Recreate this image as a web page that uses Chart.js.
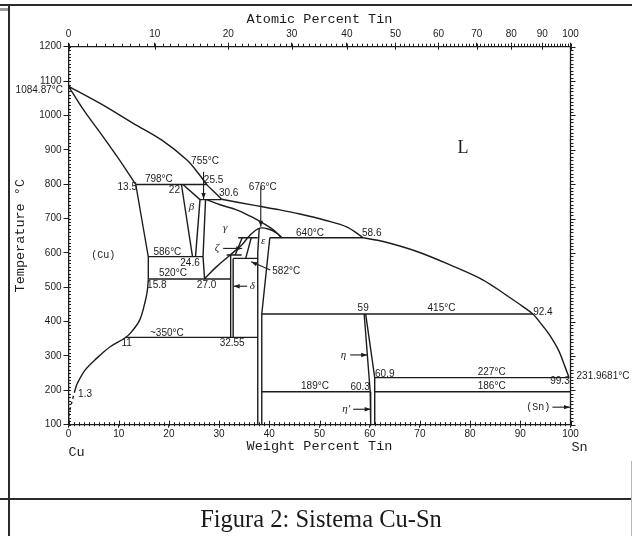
<!DOCTYPE html>
<html lang="es">
<head>
<meta charset="UTF-8">
<title>Figura 2: Sistema Cu-Sn</title>
<script src="https://cdn.jsdelivr.net/npm/chart.js"></script>
<style>
  body { margin: 0; background: #fff; }
  .page { position: relative; width: 632px; height: 536px; overflow: hidden; background: #fff; }
  #chart-box { position: absolute; left: 0; top: 0; width: 632px; height: 462px; }
  .rule { position: absolute; background: #2b2b2b; }
  .caption {
    position: absolute; left: 10px; width: 622px; top: 505px;
    text-align: center; font-family: "Liberation Serif", serif;
    font-size: 24.5px; line-height: 28px; color: #1a1a1a;
  }
</style>
</head>
<body>
<div class="page">
  <div id="chart-box"><canvas id="cuSnChart" width="632" height="462"></canvas></div>
  <div class="rule" style="left:0;top:4px;width:632px;height:2px"></div>
  <div class="rule" style="left:0;top:8px;width:8px;height:3px;background:#9a9a9a"></div>
  <div class="rule" style="left:8px;top:5px;width:2px;height:531px"></div>
  <div class="rule" style="left:0;top:498px;width:632px;height:2px"></div>
  <div class="rule" style="left:631px;top:461px;width:1px;height:75px;background:#b8b8b8"></div>
  <div class="caption">Figura 2: Sistema Cu-Sn</div>
</div>

<script>
  // limites de fase: [% peso Sn, T °C] leidos del diagrama
  // curvas
  const liquidusCu  = [[0,1084.87],[6.3,1035],[12.9,977],[18.6,928],[23.6,870],[26.2,825],[27.6,798],[29.0,778],[30.5,756]];
  const liquidusMid = [[30.5,756],[36.8,739],[42.1,725],[46.1,713],[51.1,695],[55.5,675],[58.7,644]];
  const liquidusSn  = [[58.7,644],[62.7,633],[69.4,604],[76.0,565],[82.6,521],[87.3,476],[90.6,443],[92.5,422],[94.6,385],[95.6,366],[97.6,317],[98.9,269],[99.7,237]];
  const solidusCu   = [[0,1084.87],[3.0,1016],[6.3,950],[9.6,882],[13.4,799]];
  const alphaSolvus = [[15.9,523],[15.7,490],[15.3,460],[14.2,405],[12.6,371],[11.3,353],[8.3,327],[5.6,293],[3.3,259],[1.75,220],[1.3,201]];
  const alphaLow    = [[1.3,201],[0.6,162],[0.16,133],[0,105]];
  const gammaDome   = [[27.1,525],[29.5,560],[32.2,594],[34.5,623],[36.2,652],[38.1,672],[40.1,668],[41.5,657],[42.5,644]];
  const gammaUpper  = [[27.5,755],[30.2,740],[33.5,725],[36.0,708],[38.1,692],[40.8,667],[42.5,644]];
  // tramos rectos
  const alphaHigh   = [[13.4,799],[15.9,588],[15.9,523]];
  const betaLeft    = [[22.5,799],[24.7,589]];
  const betaSolidus = [[22.8,799],[26.2,755]];
  const betaRight   = [[26.2,755],[25.3,589]];
  const gammaLeft   = [[27.3,755],[26.8,589],[27.1,525]];
  const epsLeft     = [[38.0,672],[37.7,600],[37.7,100]];
  const epsRight    = [[40.1,644],[38.5,422],[38.5,100]];
  const deltaLeft   = [[32.3,594],[32.3,354]];
  const deltaRight  = [[32.8,584],[32.8,354]];
  const zetaLeft    = [[34.6,644],[33.2,594]];
  const zetaRight   = [[36.4,644],[35.3,584]];
  const etaLeft     = [[58.9,422],[60.1,196],[60.2,100]];
  const etaRight    = [[59.2,422],[61.0,237],[61.0,100]];
  // isotermas
  const line798 = [[13.4,799],[27.6,799]];
  const line755 = [[26.2,755],[30.5,755]];
  const line640a = [[33.8,644],[37.7,644]];
  const line640b = [[40.1,644],[58.7,644]];
  const line590 = [[31.5,594],[34.5,594]];
  const line586 = [[15.9,589],[26.8,589]];
  const line582 = [[32.8,584],[37.7,584]];
  const line520 = [[15.9,524],[32.3,524]];
  const line415 = [[38.5,422],[92.5,422]];
  const line350 = [[11.3,354],[37.7,354]];
  const line227 = [[61.0,237],[99.7,237]];
  const line189 = [[38.5,196],[60.1,196]];
  const line186 = [[61.0,196],[100,196]];

  const weightTicks = [0, 10, 20, 30, 40, 50, 60, 70, 80, 90, 100];
  const atomicTicks = [0, 10, 20, 30, 40, 50, 60, 70, 80, 90, 100];
  const tempTicks = [100, 200, 300, 400, 500, 600, 700, 800, 900, 1000, 1100, 1200];

  // flechas [x1, T1, x2, T2], punta en el segundo punto
  const arrows = [
    [26.9, 836, 26.9, 757],
    [38.3, 793, 38.3, 676],
    [30.8, 613, 34.6, 613],
    [35.6, 503, 32.9, 503],
    [40.2, 550, 36.4, 574],
    [56.1, 303, 59.5, 303],
    [56.7, 145, 60.2, 145],
    [96.4, 151, 99.9, 151]
  ];

  // rotulos numericos [texto, x, T, alineacion]
  const notes = [
    ['1084.87°C', -1.1, 1072, 'right'],
    ['755°C', 27.2, 868], ['798°C', 18.0, 814], ['13.5', 11.7, 791], ['22', 21.1, 783],
    ['25.5', 28.9, 812], ['30.6', 31.9, 773], ['676°C', 38.7, 791],
    ['640°C', 48.1, 657], ['58.6', 60.4, 657], ['586°C', 19.7, 603], ['24.6', 24.2, 571],
    ['520°C', 20.8, 541], ['15.8', 17.6, 507], ['27.0', 27.5, 507], ['582°C', 40.6, 546, 'left'],
    ['~350°C', 19.6, 366], ['11', 11.6, 337], ['32.55', 32.6, 337], ['1.3', 3.3, 188],
    ['59', 58.7, 439], ['415°C', 74.3, 439], ['92.4', 94.5, 426], ['60.9', 63.0, 248],
    ['227°C', 84.3, 254], ['231.9681°C', 101.2, 242, 'left'], ['99.3', 97.9, 225],
    ['189°C', 49.1, 211], ['60.3', 58.1, 209], ['186°C', 84.3, 211]
  ];

  // nombres de fases [texto, x, T, fuente]
  const phases = [
    ['L', 78.6, 904, '18px "Liberation Serif"'],
    ['(Cu)', 6.9, 594, '10px "Liberation Mono"'],
    ['(Sn)', 93.6, 151, '10px "Liberation Mono"'],
    ['β', 24.5, 734, 'italic 11px "Liberation Serif"'],
    ['γ', 31.2, 672, 'italic 11px "Liberation Serif"'],
    ['ε', 38.8, 635, 'italic 11px "Liberation Serif"'],
    ['ζ', 29.6, 613, 'italic 11px "Liberation Serif"'],
    ['δ', 36.6, 503, 'italic 11px "Liberation Serif"'],
    ['η', 54.8, 303, 'italic 11px "Liberation Serif"'],
    ['η′', 55.3, 145, 'italic 11px "Liberation Serif"']
  ];

  const curves = [liquidusCu, liquidusMid, liquidusSn, solidusCu, alphaSolvus, gammaDome, gammaUpper];
  const straights = [alphaHigh, betaLeft, betaSolidus, betaRight, gammaLeft,
    epsLeft, epsRight, deltaLeft, deltaRight, zetaLeft, zetaRight, etaLeft, etaRight,
    line798, line755, line640a, line640b, line590, line586, line582, line520,
    line415, line350, line227, line189, line186];

  const ink = '#1c1c1c';
  const monoTitle = { family: '"Liberation Mono", monospace', size: 13.5 };
  const tickFont = { family: '"Liberation Sans", sans-serif', size: 10 };

  // % atomico -> % en peso (Sn 118.71, Cu 63.546)
  function atToWt(a) {
    return 100 * a * 118.71 / (a * 118.71 + (100 - a) * 63.546);
  }

  function toSet(pts, tension, dashed) {
    return {
      data: pts.map(p => ({ x: p[0], y: p[1] })),
      showLine: true,
      borderColor: ink,
      borderWidth: 1.4,
      borderDash: dashed ? [3, 3] : [],
      pointRadius: 0,
      fill: false,
      tension: tension
    };
  }

  const extras = {
    id: 'extras',
    afterDraw(chart) {
      const { ctx, chartArea: a, scales: { x, y } } = chart;
      const px = v => x.getPixelForValue(v);
      const py = v => y.getPixelForValue(v);
      ctx.save();
      ctx.strokeStyle = ink;
      ctx.fillStyle = ink;

      // borde derecho y marcas menores
      ctx.lineWidth = 1.3;
      ctx.beginPath();
      ctx.moveTo(a.right, a.top);
      ctx.lineTo(a.right, a.bottom);
      ctx.stroke();

      ctx.lineWidth = 1;
      ctx.beginPath();
      for (let t = 100; t <= 1200; t += 10) {
        const yy = Math.round(py(t)) + 0.5;
        ctx.moveTo(a.left, yy); ctx.lineTo(a.left + 2.5, yy);
        ctx.moveTo(a.right, yy); ctx.lineTo(a.right + (t % 100 === 0 ? 5 : 3), yy);
      }
      for (let w = 0; w <= 100; w++) {
        const xx = Math.round(px(w)) + 0.5;
        ctx.moveTo(xx, a.bottom + 1.5); ctx.lineTo(xx, a.bottom - (w % 10 === 0 ? 4 : 2.5));
      }
      for (let at = 0; at <= 100; at++) {
        const xx = Math.round(px(atToWt(at))) + 0.5;
        ctx.moveTo(xx, a.top); ctx.lineTo(xx, a.top - 3);
        if (at % 10 === 0) { ctx.moveTo(xx, a.top); ctx.lineTo(xx, a.top + 3); }
      }
      ctx.stroke();

      // flechas
      ctx.lineWidth = 1.1;
      arrows.forEach(([x1, t1, x2, t2]) => {
        const ax = px(x1), ay = py(t1), bx = px(x2), by = py(t2);
        const ang = Math.atan2(by - ay, bx - ax);
        ctx.beginPath();
        ctx.moveTo(ax, ay); ctx.lineTo(bx, by);
        ctx.stroke();
        ctx.beginPath();
        ctx.moveTo(bx, by);
        ctx.lineTo(bx - 6 * Math.cos(ang) + 2.2 * Math.sin(ang), by - 6 * Math.sin(ang) - 2.2 * Math.cos(ang));
        ctx.lineTo(bx - 6 * Math.cos(ang) - 2.2 * Math.sin(ang), by - 6 * Math.sin(ang) + 2.2 * Math.cos(ang));
        ctx.closePath();
        ctx.fill();
      });

      // rotulos
      ctx.textBaseline = 'middle';
      ctx.font = '10px "Liberation Sans", sans-serif';
      notes.forEach(([txt, w, t, align]) => {
        ctx.textAlign = align || 'center';
        ctx.fillText(txt, px(w), py(t));
      });
      phases.forEach(([txt, w, t, font]) => {
        ctx.font = font;
        ctx.textAlign = 'center';
        ctx.fillText(txt, px(w), py(t));
      });

      // Cu / Sn bajo el eje
      ctx.font = '13.5px "Liberation Mono", monospace';
      ctx.textAlign = 'left';
      ctx.fillText('Cu', px(0), 452);
      ctx.fillText('Sn', px(100) + 1, 447.5);
      ctx.restore();
    }
  };

  new Chart(document.getElementById('cuSnChart'), {
    type: 'scatter',
    data: {
      datasets: curves.map(l => toSet(l, 0.35, false))
        .concat(straights.map(l => toSet(l, 0, false)))
        .concat([toSet(alphaLow, 0.3, true)])
    },
    options: {
      responsive: false,
      animation: false,
      events: [],
      layout: { autoPadding: false, padding: { left: 10, top: 8, right: 61.5, bottom: 0 } },
      plugins: { legend: { display: false }, tooltip: { enabled: false } },
      scales: {
        x: {
          type: 'linear', position: 'bottom', min: 0, max: 100,
          afterBuildTicks: s => { s.ticks = weightTicks.map(v => ({ value: v })); },
          afterFit: s => { s.height = 37.3; },
          grid: { drawOnChartArea: false, tickLength: 3, color: ink },
          border: { color: ink, width: 1.3 },
          ticks: { autoSkip: false, maxRotation: 0, padding: 1, color: ink, font: tickFont,
                   callback: v => String(v) },
          title: { display: true, text: 'Weight Percent Tin', color: ink, font: monoTitle, padding: { top: 2, bottom: 7 } }
        },
        xTop: {
          type: 'linear', position: 'top', min: 0, max: 100,
          afterBuildTicks: s => { s.ticks = atomicTicks.map(a => ({ value: atToWt(a) })); },
          afterFit: s => { s.height = 38.7; },
          grid: { drawOnChartArea: false, tickLength: 4, color: ink },
          border: { color: ink, width: 1.3 },
          ticks: { autoSkip: false, maxRotation: 0, padding: 2, color: ink, font: tickFont,
                   callback: (v, i) => String(atomicTicks[i]) },
          title: { display: true, text: 'Atomic Percent Tin', color: ink, font: monoTitle, padding: { top: 3, bottom: 0 } }
        },
        y: {
          type: 'linear', position: 'left', min: 100, max: 1200,
          afterBuildTicks: s => { s.ticks = tempTicks.map(v => ({ value: v })); },
          afterFit: s => { s.width = 58.5; },
          grid: { drawOnChartArea: false, tickLength: 5, color: ink },
          border: { color: ink, width: 1.3 },
          ticks: { autoSkip: false, padding: 2, color: ink, font: tickFont,
                   callback: v => String(v) },
          title: { display: true, text: 'Temperature °C', color: ink, font: monoTitle, padding: { top: 2, bottom: 0 } }
        }
      }
    },
    plugins: [extras]
  });
</script>
</body>
</html>
